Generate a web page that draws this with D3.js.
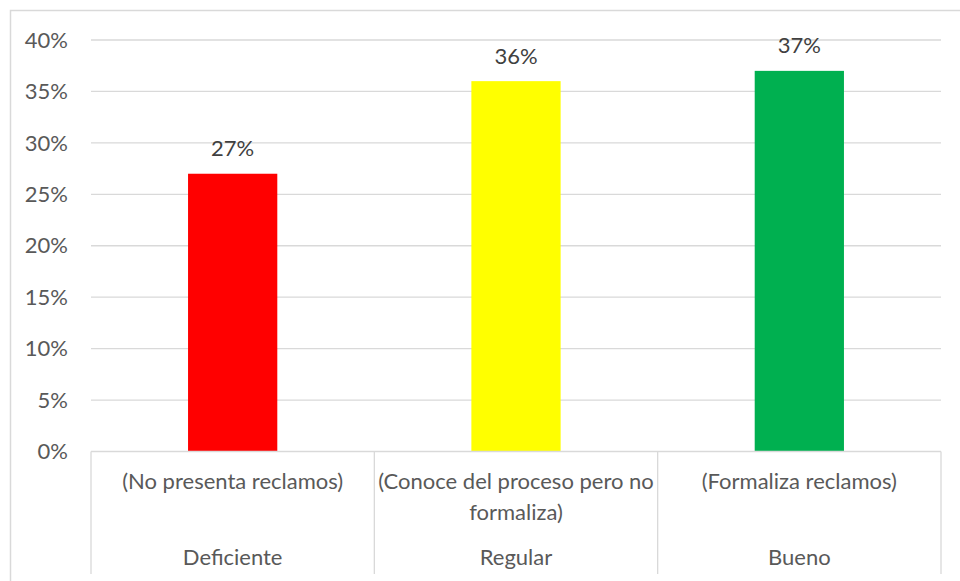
<!DOCTYPE html>
<html>
<head>
<meta charset="utf-8">
<script src="https://cdn.jsdelivr.net/npm/d3@7"></script>
<style>
  body { margin: 0; background: #fff; }
  svg text { font-family: Lato, "Open Sans", sans-serif; }
</style>
</head>
<body>
<svg id="chart" width="960" height="581"></svg>
<script>
// Chart data
const levels = ["Deficiente", "Regular", "Bueno"];
const descriptions = [
  ["(No presenta reclamos)"],
  ["(Conoce del proceso pero no", "formaliza)"],
  ["(Formaliza reclamos)"]
];
const values = [0.27, 0.36, 0.37];
const barColors = ["#ff0000", "#ffff00", "#00b050"];
const yTicks = [0, 0.05, 0.10, 0.15, 0.20, 0.25, 0.30, 0.35, 0.40];

const svg = d3.select("#chart");
const margin = { left: 91, top: 40 };
const plotRight = 941, plotBottom = 451.5;
const fs = 22;

// Outer chart frame
svg.append("rect")
  .attr("x", 10.5).attr("y", 10.5)
  .attr("width", 960).attr("height", 600)
  .attr("fill", "none").attr("stroke", "#d9d9d9").attr("stroke-width", 1.5);

const x = d3.scaleBand().domain(levels).range([margin.left, plotRight]).padding(0);
const y = d3.scaleLinear().domain([0, 0.40]).range([plotBottom, margin.top]);
const barW = x.bandwidth() * 0.315;

// Horizontal gridlines
svg.append("g").selectAll("line").data(yTicks.filter(d => d > 0)).join("line")
  .attr("x1", margin.left).attr("x2", plotRight)
  .attr("y1", d => y(d)).attr("y2", d => y(d))
  .attr("stroke", "#d9d9d9").attr("stroke-width", 1.3);

// Y tick labels
svg.append("g").selectAll("text").data(yTicks).join("text")
  .attr("x", 68).attr("y", d => y(d))
  .attr("dy", "0.35em").attr("text-anchor", "end")
  .attr("fill", "#595959").attr("font-size", fs)
  .text(d => d3.format(".0%")(d));

// Bars
svg.append("g").selectAll("rect").data(values).join("rect")
  .attr("x", (d, i) => x(levels[i]) + (x.bandwidth() - barW) / 2)
  .attr("y", d => y(d))
  .attr("width", barW)
  .attr("height", d => y(0) - y(d))
  .attr("fill", (d, i) => barColors[i]);

// Value labels
svg.append("g").selectAll("text").data(values).join("text")
  .attr("x", (d, i) => x(levels[i]) + x.bandwidth() / 2)
  .attr("y", d => y(d) - 17.5)
  .attr("text-anchor", "middle")
  .attr("fill", "#404040").attr("font-size", fs)
  .text(d => d3.format(".0%")(d));

// Category axis baseline and separators
svg.append("line")
  .attr("x1", margin.left).attr("x2", plotRight)
  .attr("y1", plotBottom).attr("y2", plotBottom)
  .attr("stroke", "#d9d9d9").attr("stroke-width", 1.3);
const seps = levels.map(l => x(l)).concat([plotRight]);
svg.append("g").selectAll("line").data(seps).join("line")
  .attr("x1", d => d).attr("x2", d => d)
  .attr("y1", plotBottom).attr("y2", 574)
  .attr("stroke", "#d9d9d9").attr("stroke-width", 1.3);

// Inner category labels (descriptions)
const desc = svg.append("g").selectAll("text").data(descriptions).join("text")
  .attr("text-anchor", "middle")
  .attr("fill", "#595959").attr("font-size", fs);
desc.each(function(lines, i) {
  d3.select(this).selectAll("tspan").data(lines).join("tspan")
    .attr("x", x(levels[i]) + x.bandwidth() / 2)
    .attr("y", (d, j) => 489 + j * 31)
    .text(d => d);
});

// Outer category labels
svg.append("g").selectAll("text").data(levels).join("text")
  .attr("x", d => x(d) + x.bandwidth() / 2)
  .attr("y", 565)
  .attr("text-anchor", "middle")
  .attr("fill", "#595959").attr("font-size", fs)
  .text(d => d);
</script>
</body>
</html>
